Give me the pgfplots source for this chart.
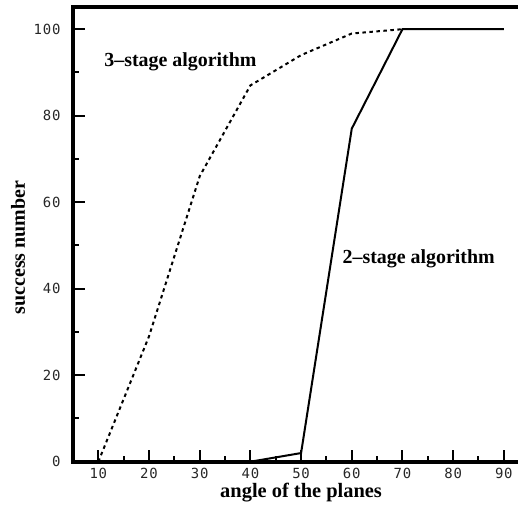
\documentclass[border=0pt]{standalone}
\usepackage{fontspec}
\setmainfont{Liberation Serif}
\newfontfamily\tickfont[LetterSpace=6]{DejaVu Sans Mono}
\usepackage{pgfplots}
\pgfplotsset{compat=1.18}
\begin{document}
\begin{tikzpicture}
\begin{axis}[
  scale only axis,
  width=445bp, height=455bp,
  xmin=5, xmax=92.8,
  ymin=0, ymax=105.2,
  clip=false,
  axis line style={draw=none},
  xtick={10,20,...,90},
  ytick={0,20,...,100},
  minor x tick num=1,
  minor y tick num=1,
  xtick pos=bottom, ytick pos=left,
  tick align=inside,
  major tick length=12bp,
  minor tick length=6bp,
  every tick/.style={line width=2bp, black},
  /pgf/number format/assume math mode=true,
  tick label style={font=\tickfont\fontsize{14}{16}\selectfont, text=black!85},
  yticklabel style={xshift=-9bp},
  xticklabel style={yshift=-3bp},
]
\addplot[black, line width=2bp, dash pattern=on 3.5bp off 3.5bp] coordinates {
  (10,0) (20,29) (30,66) (40,87) (50,94) (60,99) (70,100)
};
\addplot[black, line width=2bp] coordinates {
  (40,0) (50,2) (60,77) (70,100) (80,100) (90,100)
};
\draw[line width=4bp, miter limit=10] (rel axis cs:1,1) -- (rel axis cs:0,1) -- (rel axis cs:0,0) -- (rel axis cs:1,0);
\node[font=\fontsize{20}{24}\selectfont\bfseries, anchor=base] at (axis cs:26.2,91.4) {3--stage algorithm};
\node[font=\fontsize{20}{24}\selectfont\bfseries, anchor=base] at (axis cs:73.2,45.9) {2--stage algorithm};
\node[font=\fontsize{20.5}{24}\selectfont\bfseries, anchor=base] at ([yshift=-36bp]axis cs:50,0) {angle of the planes};
\node[font=\fontsize{20}{24}\selectfont\bfseries, anchor=base, rotate=90] at ([xshift=-48bp]axis cs:5,49.5) {success number};
\coordinate (bl) at (rel axis cs:0,0);
\coordinate (tr) at (rel axis cs:1,1);
\end{axis}
\pgfresetboundingbox
\path ([xshift=-73bp,yshift=-47bp]bl) rectangle ([yshift=6.7bp]tr);
\end{tikzpicture}
\end{document}
